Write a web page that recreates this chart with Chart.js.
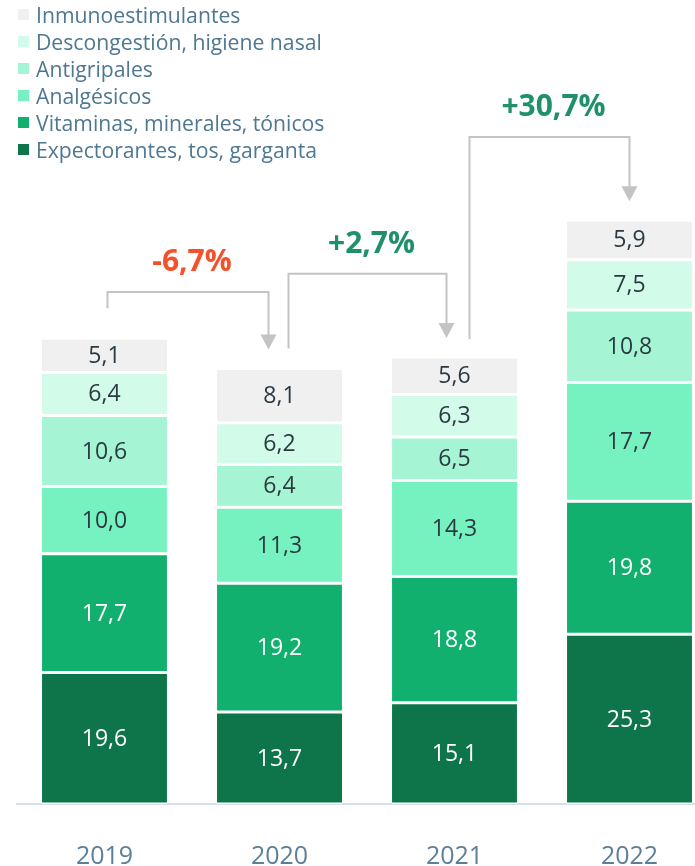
<!DOCTYPE html>
<html>
<head>
<meta charset="utf-8">
<script src="https://cdn.jsdelivr.net/npm/chart.js@4/dist/chart.umd.min.js"></script>
<style>
    body { margin: 0; width: 695px; height: 866px; overflow: hidden; background: #fff; font-family: 'Open Sans', sans-serif; }
    #wrap { position: absolute; left: 0; top: 0; width: 720px; height: 910px; }
    #legend { position: absolute; left: 0; top: 1px; margin: 0; padding: 0; list-style: none; }
    #legend li { position: relative; height: 27px; line-height: 27px; padding-left: 36px; font-size: 21.2px; color: #4e7793; white-space: nowrap; }
    #legend li span { position: absolute; left: 18px; top: 8px; width: 11px; height: 11px; }
</style>
</head>
<body>
<div id="wrap">
    <canvas id="chart" width="720" height="910"></canvas>
</div>
<ul id="legend"></ul>
<script>
// Данные
const years = ['2019', '2020', '2021', '2022'];
// снизу вверх
const categories = ['Expectorantes, tos, garganta', 'Vitaminas, minerales, tónicos', 'Analgésicos', 'Antigripales', 'Descongestión, higiene nasal', 'Inmunoestimulantes'];
const expectorantes = [19.6, 13.7, 15.1, 25.3];
const vitaminas = [17.7, 19.2, 18.8, 19.8];
const analgesicos = [10.0, 11.3, 14.3, 17.7];
const antigripales = [10.6, 6.4, 6.5, 10.8];
const descongestion = [6.4, 6.2, 6.3, 7.5];
const inmuno = [5.1, 8.1, 5.6, 5.9];
const changeLabels = ['-6,7%', '+2,7%', '+30,7%'];
const bracketLevels = [76.3, 79.0, 99.4]; // высота скобки в единицах оси

const colors = ['#0e754b', '#12b06f', '#76f2c0', '#a5f5d4', '#d2fbea', '#f0f0f0'];
const labelColors = ['#ffffff', '#ffffff', '#2b3a42', '#2b3a42', '#2b3a42', '#2b3a42'];
const series = [expectorantes, vitaminas, analgesicos, antigripales, descongestion, inmuno];

// Легенда (в обратном порядке)
const legend = document.getElementById('legend');
for (let i = categories.length - 1; i >= 0; i--) {
    const li = document.createElement('li');
    li.innerHTML = `<span style="background:${colors[i]}"></span>${categories[i]}`;
    legend.appendChild(li);
}

const fmt = v => v.toFixed(1).replace('.', ',');

// Подписи значений внутри сегментов
const valueLabels = {
    id: 'valueLabels',
    afterDatasetsDraw(chart) {
        const ctx = chart.ctx;
        ctx.save();
        ctx.font = '23px "Open Sans"';
        ctx.textAlign = 'center';
        ctx.textBaseline = 'middle';
        chart.data.datasets.forEach((ds, di) => {
            const meta = chart.getDatasetMeta(di);
            meta.data.forEach((bar, i) => {
                ctx.fillStyle = labelColors[di];
                ctx.fillText(fmt(ds.data[i]), bar.x, (bar.y + bar.base) / 2 + 1);
            });
        });
        ctx.restore();
    }
};

// Стрелки с процентами
const startOffsets = [3, 9, 15];
const arrowOffsets = [-11, -8, 0];
const startGaps = [30, 20, 18];
const brackets = {
    id: 'brackets',
    afterDatasetsDraw(chart) {
        const ctx = chart.ctx;
        const x = chart.scales.x, y = chart.scales.y;
        const top = i => y.getPixelForValue(series.reduce((s, arr) => s + arr[i], 0));
        ctx.save();
        changeLabels.forEach((label, i) => {
            const x1 = x.getPixelForValue(i) + startOffsets[i];
            const x2 = x.getPixelForValue(i + 1) + arrowOffsets[i];
            const y1 = top(i) - startGaps[i];
            const yl = y.getPixelForValue(bracketLevels[i]);
            const tip = top(i + 1) - 19;
            ctx.strokeStyle = '#c4c4c4';
            ctx.lineWidth = 2;
            ctx.beginPath();
            ctx.moveTo(x1, y1);
            ctx.lineTo(x1, yl);
            ctx.lineTo(x2, yl);
            ctx.lineTo(x2, tip - 14);
            ctx.stroke();
            ctx.fillStyle = '#c4c4c4';
            ctx.beginPath();
            ctx.moveTo(x2 - 8, tip - 15);
            ctx.lineTo(x2 + 8, tip - 15);
            ctx.lineTo(x2, tip);
            ctx.closePath();
            ctx.fill();
            ctx.font = 'bold 30px "Open Sans"';
            ctx.textAlign = 'center';
            ctx.textBaseline = 'middle';
            ctx.fillStyle = label.startsWith('-') ? '#f4502a' : '#1f906a';
            ctx.fillText(label, (x1 + x2) / 2 + 4, yl - 29);
        });
        ctx.restore();
    }
};

new Chart(document.getElementById('chart').getContext('2d'), {
    type: 'bar',
    data: {
        labels: years,
        datasets: series.map((data, i) => ({
            label: categories[i],
            data,
            backgroundColor: colors[i],
            borderColor: '#ffffff',
            borderWidth: { top: 1.5, bottom: 1.5, left: 0, right: 0 },
            borderSkipped: false,
            categoryPercentage: 1,
            barPercentage: 0.714
        }))
    },
    options: {
        responsive: false,
        animation: false,
        layout: { padding: { left: 17, right: 3, top: 200, bottom: 0 } },
        plugins: { legend: { display: false }, tooltip: { enabled: false } },
        scales: {
            x: {
                stacked: true,
                grid: { display: false, drawTicks: false },
                border: { display: true, color: '#d5e1ea', width: 2 },
                ticks: { color: '#5a7f99', font: { family: 'Open Sans', size: 25 }, padding: 38 }
            },
            y: {
                stacked: true,
                display: false,
                min: 0,
                max: 90
            }
        }
    },
    plugins: [valueLabels, brackets]
});
</script>
</body>
</html>
